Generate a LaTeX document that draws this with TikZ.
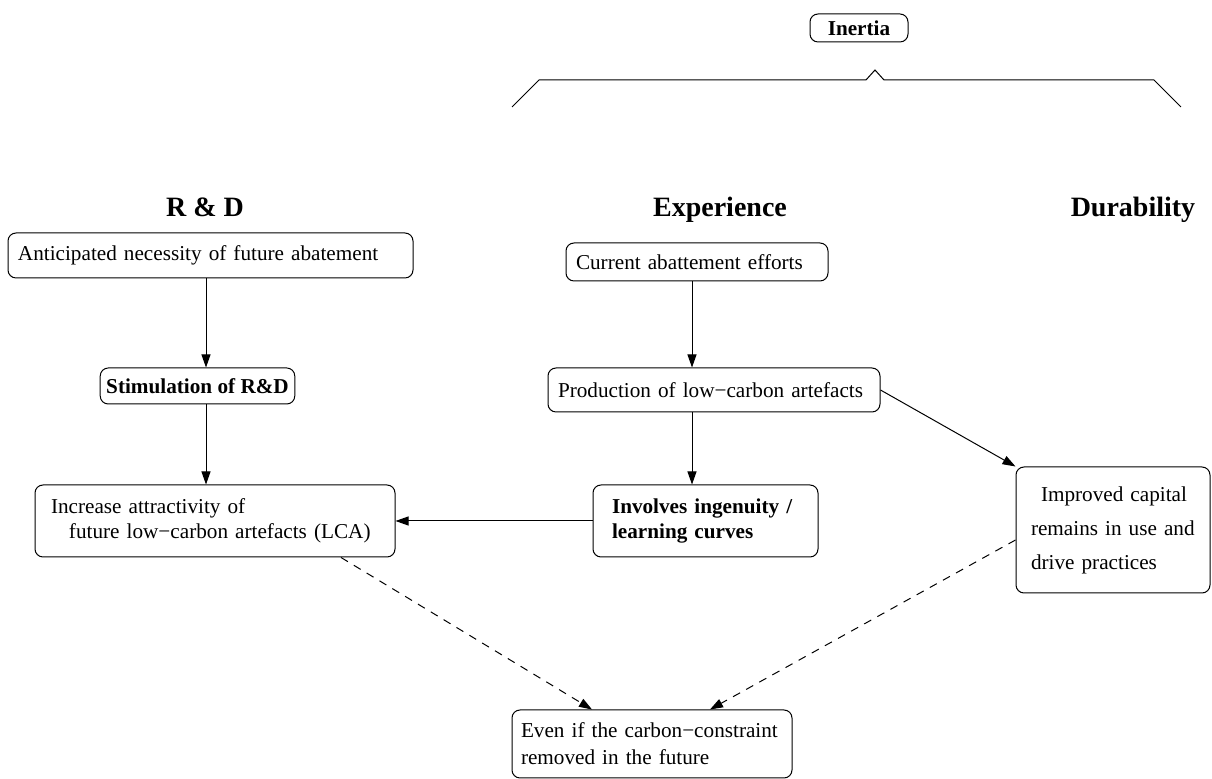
\documentclass[tikz,border=0pt]{standalone}
\usepackage{fontspec}
\setmainfont{Liberation Serif}
\usetikzlibrary{arrows.meta,positioning}

\begin{document}
\begin{tikzpicture}[x=0.5pt,y=-0.5pt,line width=0.5pt,
  box/.style={draw,rounded corners=4pt,align=left,inner ysep=0pt,font=\fontsize{10.6}{12.5}\selectfont},
  boldbox/.style={box,font=\fontsize{10.6}{12.5}\selectfont\bfseries},
  head/.style={anchor=base,font=\fontsize{14}{17}\selectfont\bfseries},
  arr/.style={-{Triangle[length=6.5pt,width=4.5pt]}},
  dasharr/.style={arr,dash pattern=on 4pt off 3.5pt}]
  \useasboundingbox (0,0) rectangle (1212,779);
  % Inertia and its brace
  \node[boldbox,align=center,minimum width=49pt,minimum height=14pt,inner xsep=0pt] (inertia) at (859,28) {Inertia};
  \draw (512,107) -- (539,80) -- (866,80) -- (875,70) -- (884,80) -- (1154,80) -- (1181,107);
  % Column heads
  \node[head] (rd) at (205,217) {R \& D};
  \node[head] (exper) at (720,217) {Experience};
  \node[head] (dura) at (1133,217) {Durability};
  % R & D column
  \node[box,text width=192.5pt,inner xsep=5pt,minimum height=22.5pt] (antic) at (210.5,255.5) {Anticipated necessity of future abatement};
  \node[boldbox,align=center,inner xsep=3pt,minimum height=18pt] (stim) at (197.5,386) {Stimulation of R\&D};
  \node[box,text width=164pt,inner xsep=8pt,minimum height=36pt] (lca) at (215,521) {Increase attractivity of\\\hspace*{9pt}future low−carbon artefacts (LCA)};
  % Experience column
  \node[box,text width=121pt,inner xsep=5pt,minimum height=19pt] (curr) at (697,262) {Current abattement efforts};
  \node[box,text width=156pt,inner xsep=5pt,minimum height=22pt] (prod) at (714,390) {Production of low−carbon artefacts};
  \node[boldbox,text width=93.5pt,inner xsep=9.5pt,minimum height=36pt] (ingen) at (705.5,521) {Involves ingenuity /\\learning curves};
  % Durability column
  \node[box,text width=82pt,inner xsep=7.5pt,minimum height=63pt,font=\fontsize{10.6}{17}\selectfont] (impr) at (1113,530) {\hspace*{5pt}Improved capital\\remains in use and\\drive practices};
  % Outcome
  \node[box,text width=131pt,inner xsep=4.5pt,minimum height=34pt,font=\fontsize{10.6}{13.5}\selectfont] (even) at (652,744) {Even if the carbon−constraint\\removed in the future};
  % Connections
  \draw[arr] ([xshift=-2.25pt]antic.south) -- ([xshift=-2.25pt]antic.south |- stim.north);
  \draw[arr] ([xshift=-2.25pt]antic.south |- stim.south) -- ([xshift=-2.25pt]antic.south |- lca.north);
  \draw[arr] ([xshift=-2.5pt]curr.south) -- ([xshift=-2.5pt]curr.south |- prod.north);
  \draw[arr] ([xshift=-2.5pt]curr.south |- prod.south) -- ([xshift=-2.5pt]curr.south |- ingen.north);
  \draw[arr] (ingen) -- (lca);
  \draw[arr] (prod.east) -- (impr.north west);
  \draw[dasharr] ([xshift=63pt]lca.south) -- ([xshift=-30pt]even.north);
  \draw[dasharr] ([yshift=-5pt]impr.west) -- ([xshift=29pt]even.north);
\end{tikzpicture}
\end{document}
